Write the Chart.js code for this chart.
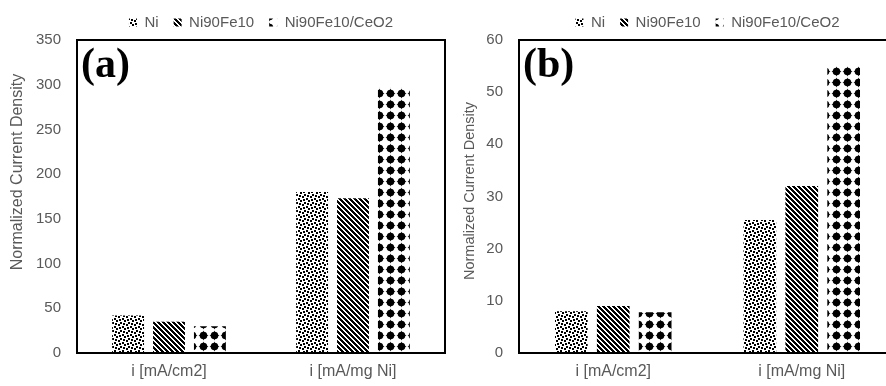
<!DOCTYPE html>
<html>
<head>
<meta charset="utf-8">
<script src="https://cdn.jsdelivr.net/npm/chart.js@4"></script>
<style>
  html, body { margin: 0; padding: 0; background: #fff; }
  #wrap { position: relative; width: 886px; height: 386px; overflow: hidden; background: #fff; }
  #chartA { position: absolute; left: 0; top: 0; }
  #chartB { position: absolute; left: 446px; top: 0; }
</style>
</head>
<body>
<div id="wrap">
  <canvas id="chartA" width="450" height="386"></canvas>
  <canvas id="chartB" width="455" height="386"></canvas>
</div>
<script>
// data
const categories = ['i [mA/cm2]', 'i [mA/mg Ni]'];
const seriesNames = ['Ni', 'Ni90Fe10', 'Ni90Fe10/CeO2'];

const niA = [42, 180];
const niFeA = [35, 173];
const niFeCeA = [30, 297];
const yTicksA = [0, 50, 100, 150, 200, 250, 300, 350];

const niB = [8.0, 25.5];
const niFeB = [9.0, 32.0];
const niFeCeB = [7.8, 55.0];
const yTicksB = [0, 10, 20, 30, 40, 50, 60];

const GREY = '#595959';
const FONT = '"Liberation Sans", Arial, sans-serif';

function tile(ctx, size, draw) {
    const c = document.createElement('canvas');
    c.width = size; c.height = size;
    const g = c.getContext('2d');
    g.fillStyle = '#fff';
    g.fillRect(0, 0, size, size);
    g.fillStyle = '#000';
    draw(g, size);
    return ctx.createPattern(c, 'repeat');
}

function makePatterns(ctx) {
    // large confetti hatch for Ni
    const confetti = tile(ctx, 8, (g, s) => {
        const rows = [0x8d, 0x0c, 0xc0, 0xd8, 0x1b, 0x03, 0x30, 0xb1];
        rows.forEach((bits, y) => {
            for (let x = 0; x < s; x++) {
                if (bits & (0x80 >> x)) g.fillRect(x, y, 1, 1);
            }
        });
    });
    // dark downward diagonal for Ni90Fe10
    const diag = tile(ctx, 5, (g, s) => {
        for (let x = 0; x < s; x++) for (let y = 0; y < s; y++) {
            if ((x - y + 10) % 5 < 3) g.fillRect(x, y, 1, 1);
        }
    });
    // spheres for Ni90Fe10/CeO2
    const spheres = tile(ctx, 11, (g) => {
        g.beginPath(); g.arc(5.5, 5.5, 3.8, 0, Math.PI * 2); g.fill();
        g.beginPath();
        g.moveTo(5.5, 0.5); g.lineTo(7.5, 5.5); g.lineTo(5.5, 10.5); g.lineTo(3.5, 5.5);
        g.closePath(); g.fill();
        g.beginPath();
        g.moveTo(0.5, 5.5); g.lineTo(5.5, 3.5); g.lineTo(10.5, 5.5); g.lineTo(5.5, 7.5);
        g.closePath(); g.fill();
    });
    return [confetti, diag, spheres];
}

// frame round the plot, panel letter and the y title
const framePlugin = {
    id: 'frame',
    afterDatasetsDraw(chart, args, opts) {
        const { ctx, chartArea: a } = chart;
        ctx.save();
        ctx.strokeStyle = '#000';
        ctx.lineWidth = 2;
        ctx.strokeRect(a.left, a.top, a.right - a.left, a.bottom - a.top);

        ctx.font = 'bold 42px "Liberation Serif", "Times New Roman", serif';
        ctx.fillStyle = '#000';
        ctx.textBaseline = 'top';
        ctx.textAlign = 'left';
        ctx.fillText(opts.letter, a.left + 4, a.top + 5);

        ctx.translate(opts.titleX, opts.titleY);
        ctx.rotate(-Math.PI / 2);
        ctx.font = opts.titleSize + 'px ' + FONT;
        ctx.fillStyle = GREY;
        ctx.textAlign = 'center';
        ctx.textBaseline = 'middle';
        ctx.fillText('Normalized Current Density', 0, 0);
        ctx.restore();
    }
};

function buildChart(id, series, yTicks, axisWidth, rightPad, frameOpts) {
    const canvas = document.getElementById(id);
    const ctx = canvas.getContext('2d');
    const pats = makePatterns(ctx);
    const datasets = series.map((vals, i) => ({
        label: seriesNames[i],
        data: vals,
        backgroundColor: pats[i],
        borderWidth: 0,
        categoryPercentage: 0.667,
        barPercentage: 0.78
    }));
    return new Chart(ctx, {
        type: 'bar',
        data: { labels: categories, datasets: datasets },
        options: {
            responsive: false,
            animation: false,
            layout: { padding: { left: 0, right: rightPad, top: 0, bottom: 0 } },
            plugins: {
                tooltip: { enabled: false },
                legend: {
                    position: 'top',
                    fullSize: false,
                    maxHeight: 48,
                    labels: {
                        boxWidth: 8,
                        boxHeight: 8,
                        padding: 15,
                        color: GREY,
                        font: { family: FONT, size: 15 }
                    }
                },
                frame: frameOpts
            },
            scales: {
                x: {
                    grid: { display: false, drawTicks: false },
                    border: { display: false },
                    ticks: { color: GREY, font: { family: FONT, size: 16 }, padding: 9 },
                    afterFit: (s) => { s.height = 33; }
                },
                y: {
                    min: yTicks[0],
                    max: yTicks[yTicks.length - 1],
                    grid: { display: false, drawTicks: false },
                    border: { display: false },
                    ticks: {
                        stepSize: yTicks[1] - yTicks[0],
                        color: GREY,
                        font: { family: FONT, size: 15 },
                        padding: 16
                    },
                    afterFit: (s) => { s.width = axisWidth; }
                }
            }
        },
        plugins: [framePlugin]
    });
}

buildChart('chartA', [niA, niFeA, niFeCeA], yTicksA, 77, 5,
    { letter: '(a)', titleX: 18, titleY: 172, titleSize: 16 });
buildChart('chartB', [niB, niFeB, niFeCeB], yTicksB, 73, 5,
    { letter: '(b)', titleX: 24, titleY: 191, titleSize: 14.5 });
</script>
</body>
</html>
